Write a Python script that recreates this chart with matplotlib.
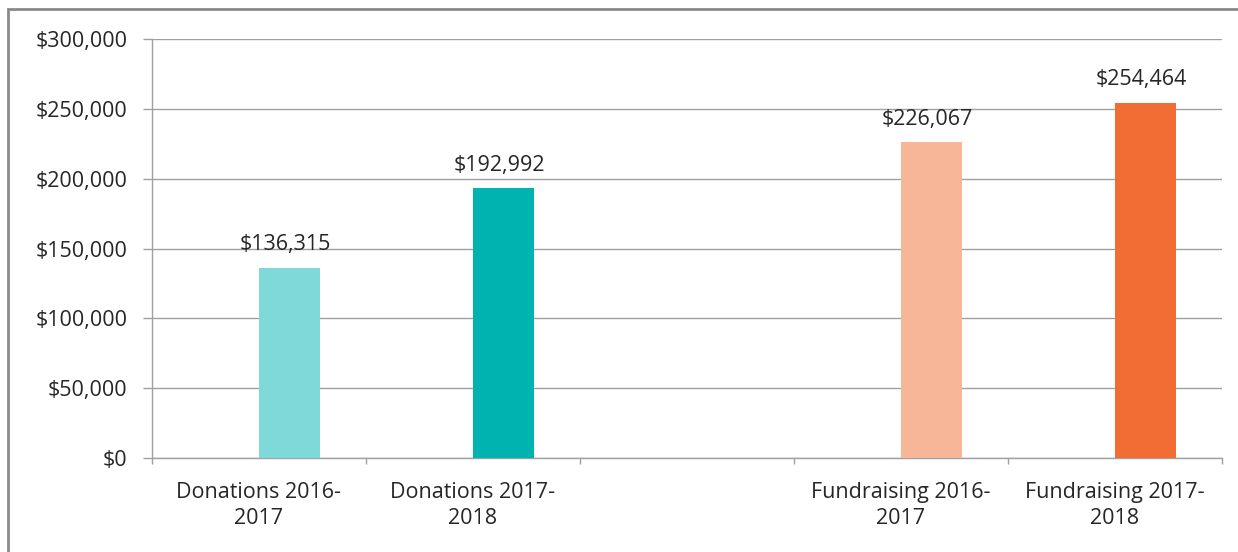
import matplotlib
matplotlib.use("Agg")
import matplotlib.pyplot as plt
from matplotlib.patches import Rectangle
import numpy as np

categories = ["Donations 2016-\n2017", "Donations 2017-\n2018", "", "Fundraising 2016-\n2017", "Fundraising 2017-\n2018"]
values = [136315, 192992, None, 226067, 254464]
colors = ["#80d9d9", "#00b3b0", None, "#f8b699", "#f26d34"]
yticks = [0, 50000, 100000, 150000, 200000, 250000, 300000]

plt.rcParams['font.family'] = ['Open Sans', 'DejaVu Sans']
FS = 15.5

fig = plt.figure(figsize=(12.38, 5.52), dpi=100)
ax = fig.add_axes([152/1238, 94/552, 1070/1238, 419/552])

x = np.arange(len(categories))
w = 0.285
for xi, v, c in zip(x, values, colors):
    if v is None:
        continue
    ax.bar(xi, v, width=w, align='edge', color=c, zorder=3)
    ax.annotate(f"${v:,.0f}", (xi + w/2, v), xytext=(-3, 9), textcoords='offset points',
                ha='center', va='bottom', fontsize=FS, color='#262626')

ax.set_xlim(-0.5, len(categories) - 0.5)
ax.set_ylim(0, 300000)
ax.set_yticks(yticks)
ax.set_yticklabels([f"${t:,.0f}" for t in yticks], fontsize=FS, color='#262626')
ax.set_xticks(x)
ax.set_xticklabels(categories, fontsize=FS, color='#262626', linespacing=1.35)
ax.set_xticks(np.arange(-0.5, len(categories)), minor=True)
ax.tick_params(axis='x', which='major', length=0, pad=17)
ax.tick_params(axis='x', which='minor', length=4.5, color='#a0a0a0', width=1)
ax.tick_params(axis='y', length=6.5, color='#a0a0a0', width=1, pad=11)
ax.yaxis.grid(True, color='#a0a0a0', linewidth=1, zorder=0)
ax.set_axisbelow(True)
for s in ['top', 'right']:
    ax.spines[s].set_visible(False)
for s in ['left', 'bottom']:
    ax.spines[s].set_color('#a0a0a0')
    ax.spines[s].set_linewidth(1)

fig.patches.append(Rectangle((8/1238, -0.1), 1.2, (552-9)/552 + 0.1, transform=fig.transFigure,
                             fill=False, edgecolor='#8a8a8a', linewidth=2))

fig.savefig("out.png", dpi=100)
